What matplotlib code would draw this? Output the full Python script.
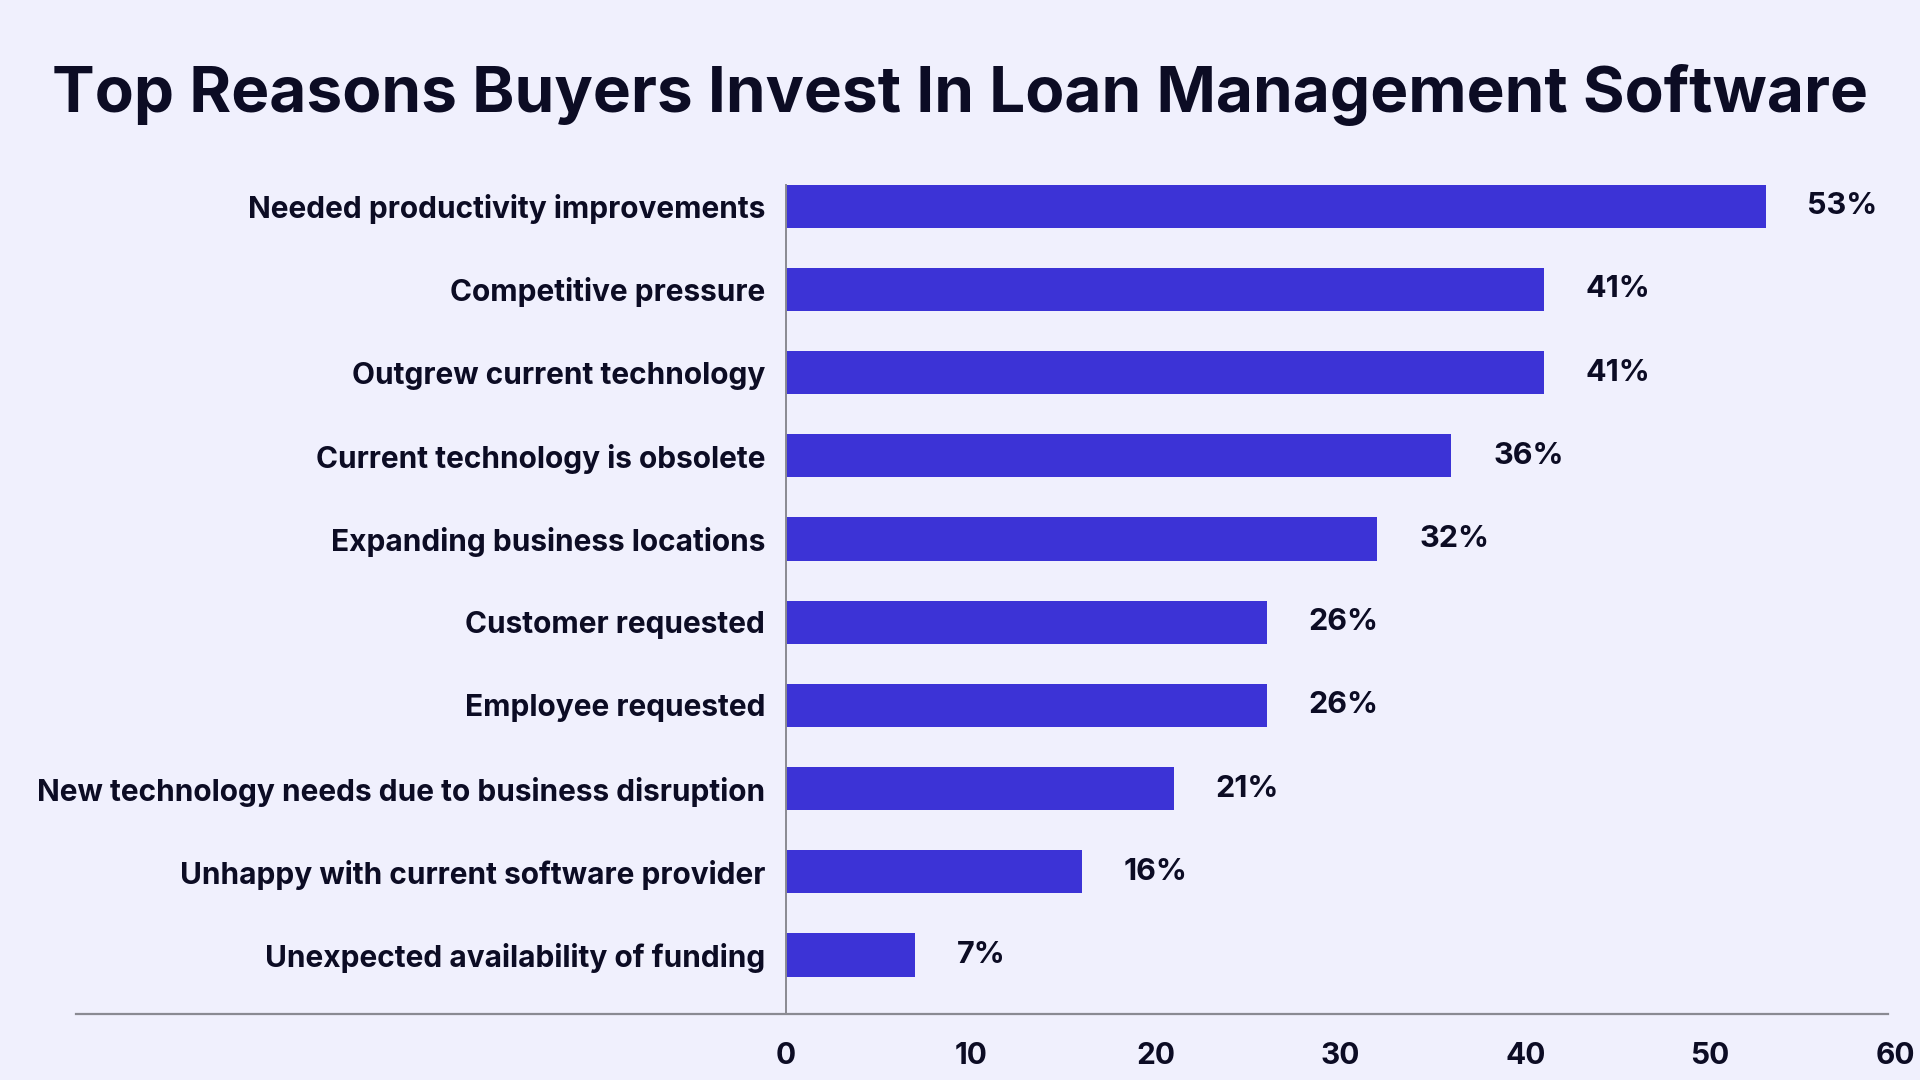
import matplotlib
matplotlib.use("Agg")
import matplotlib.pyplot as plt
from matplotlib.lines import Line2D

# data, top to bottom
reasons = [
    "Needed productivity improvements",
    "Competitive pressure",
    "Outgrew current technology",
    "Current technology is obsolete",
    "Expanding business locations",
    "Customer requested",
    "Employee requested",
    "New technology needs due to business disruption",
    "Unhappy with current software provider",
    "Unexpected availability of funding",
]
shares = [53, 41, 41, 36, 32, 26, 26, 21, 16, 7]
xticks = [0, 10, 20, 30, 40, 50, 60]

bg = "#f0f0fd"
bar_col = "#3c33d6"
ink = "#0c0c24"
axis_col = "#8a8a92"

plt.rcParams['font.family'] = ['Inter', 'DejaVu Sans']

fig = plt.figure(figsize=(19.2, 10.8), dpi=100, facecolor=bg)
ax = fig.add_axes([786/1920, 0.0611, (1895-786)/1920, 0.8019])
ax.set_facecolor(bg)

ypos = list(range(len(reasons)))
ax.barh(ypos, shares, height=0.52, color=bar_col, zorder=2)

for y, v in zip(ypos, shares):
    ax.annotate(f"{v}%", (v, y), xytext=(30, 0), textcoords="offset points",
                va="center", ha="left", fontsize=22, fontweight="bold", color=ink)

ax.set_xlim(0, 60)
ax.set_ylim(9.71, -0.7)
ax.set_yticks(ypos)
ax.set_yticklabels(reasons, fontsize=21.5, fontweight="bold", color=ink)
ax.set_xticks(xticks)
ax.set_xticklabels([str(t) for t in xticks], fontsize=21.5, fontweight="bold", color=ink)
ax.tick_params(axis="y", length=0, pad=15)
ax.tick_params(axis="x", length=0, pad=20)

for s in ["top", "right", "bottom"]:
    ax.spines[s].set_visible(False)
ax.spines["left"].set_color(axis_col)
ax.spines["left"].set_linewidth(1.4)
ax.spines["left"].set_bounds(9.71, -0.26)

# baseline running under the labels too
fig.add_artist(Line2D([76/1920, 1888/1920], [0.0611, 0.0611], color=axis_col,
                      lw=1.6, transform=fig.transFigure))

fig.text(0.5, 1 - 95/1080, "Top Reasons Buyers Invest In Loan Management Software",
         ha="center", va="center", fontsize=46, fontweight="bold", color=ink)

fig.savefig("out.png", dpi=100, facecolor=bg)
